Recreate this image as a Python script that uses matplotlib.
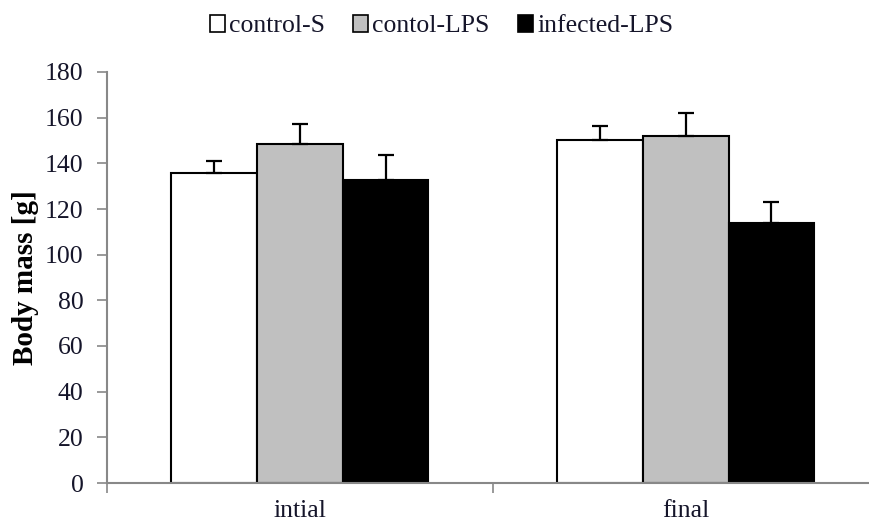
import numpy as np
import matplotlib
matplotlib.use("Agg")
import matplotlib.pyplot as plt
from matplotlib.patches import Patch

# data
categories = ["intial", "final"]
groups = ["control-S", "contol-LPS", "infected-LPS"]
means = {
    "control-S": [135.9, 150.2],
    "contol-LPS": [148.5, 152.0],
    "infected-LPS": [132.7, 114.0],
}
errors = {
    "control-S": [5.1, 6.2],
    "contol-LPS": [8.7, 10.2],
    "infected-LPS": [10.8, 8.9],
}
colors = {"control-S": "#ffffff", "contol-LPS": "#c0c0c0", "infected-LPS": "#000000"}
yticks = list(range(0, 181, 20))

plt.rcParams['font.family'] = ['Liberation Serif', 'DejaVu Serif']
txt_color = "#15152a"

fig = plt.figure(figsize=(8.69, 5.25), dpi=100)
ax = fig.add_axes([107 / 869, 42 / 525, (869 - 107) / 869, 411 / 525])

x = np.arange(len(categories))
bw = 0.222
for i, g in enumerate(groups):
    pos = x + (i - 1) * bw
    err = np.array(errors[g])
    ax.bar(pos, means[g], bw, color=colors[g], edgecolor="black", linewidth=1.5, zorder=2)
    ax.errorbar(pos, means[g], yerr=[np.zeros_like(err), err], fmt="none",
                ecolor="black", elinewidth=1.6, capsize=6, capthick=1.6, zorder=3)

ax.set_xlim(-0.5, 1.475)
ax.set_ylim(0, 180)
ax.set_yticks(yticks)
ax.set_yticklabels([str(t) for t in yticks], fontsize=18.5, color=txt_color)
ax.set_xticks(x)
ax.set_xticklabels(categories, fontsize=18.5, color=txt_color)
ax.tick_params(axis="x", length=0, pad=12)
ax.set_xticks([-0.5, 0.5], minor=True)
ax.tick_params(axis="x", which="minor", length=7, width=1.2, color="#888888", direction="out")
ax.tick_params(axis="y", length=7, width=1.2, color="#888888", direction="out", pad=10)

for s in ["top", "right"]:
    ax.spines[s].set_visible(False)
for s in ["left", "bottom"]:
    ax.spines[s].set_color("#888888")
    ax.spines[s].set_linewidth(1.5)

ax.set_ylabel("Body mass [g]", fontsize=21, fontweight="bold", labelpad=4, color="#000000")

handles = [Patch(facecolor=colors[g], edgecolor="black", linewidth=1.2) for g in groups]
fig.legend(handles, groups, loc="upper center", bbox_to_anchor=(0.508, 1.015), ncol=3,
           frameon=False, fontsize=18.5, handlelength=0.6, handleheight=0.6,
           handletextpad=0.15, columnspacing=1.1, labelcolor=txt_color)

fig.savefig("out.png", dpi=100)
